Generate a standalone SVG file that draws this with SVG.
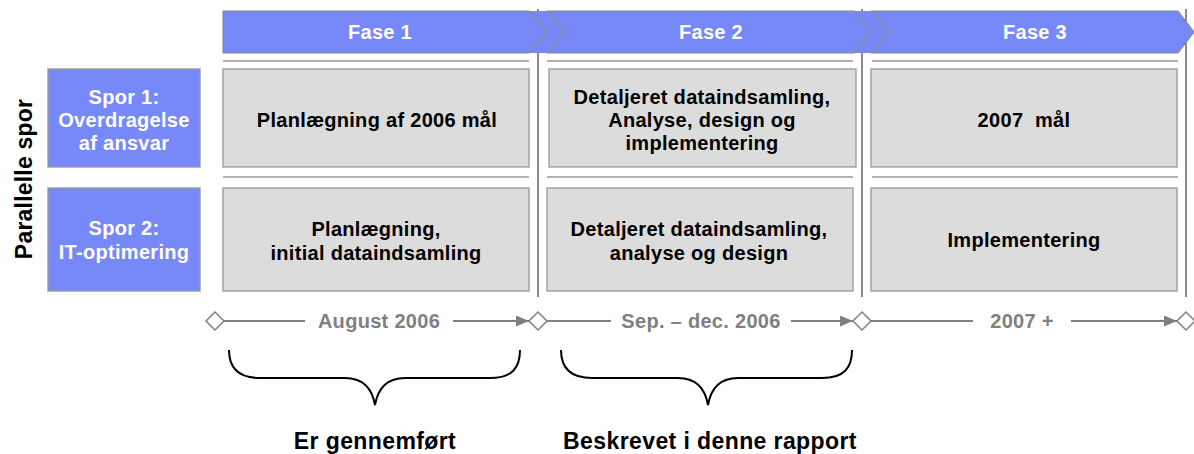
<svg xmlns="http://www.w3.org/2000/svg" width="1194" height="454" viewBox="0 0 1194 454">
<style>
text{font-family:"Liberation Sans",Arial,sans-serif;font-weight:bold;letter-spacing:0.3px;text-anchor:middle;white-space:pre}
.hdr{fill:#ffffff;font-size:20px}
.cell{fill:#dcdcdc;stroke:#999999;stroke-width:1.3}
.ctext{fill:#000000;font-size:20px}
.track{fill:#7788f8;stroke:#999999;stroke-width:1.3}
.ttext{fill:#ffffff;font-size:20px}
.vtext{fill:#000000;font-size:23px;letter-spacing:0.2px}
.sep{stroke:#8c8c8c;stroke-width:2;fill:none}
.hl{stroke:#999999;stroke-width:1.5;fill:none}
.chev{fill:#7788f8;stroke:#8c8c8c;stroke-width:1.2}
.gap{fill:#7788f8;stroke:none}
.tl{stroke:#808080;stroke-width:2.2;fill:none}
.tltext{fill:#808080;font-size:20px}
.dia{fill:#ffffff;stroke:#808080;stroke-width:1.5}
.brace{stroke:#000000;stroke-width:2;fill:none}
.btext{fill:#000000;font-size:23px;letter-spacing:0.4px}
</style>
<defs>
<marker id="arr" viewBox="0 0 13 11" refX="13" refY="5.5" markerWidth="13" markerHeight="11" markerUnits="userSpaceOnUse" orient="auto">
<path d="M0,0 L13,5.5 L0,11 Z" fill="#808080"/>
</marker>
</defs>
<rect width="1194" height="454" fill="#ffffff"/>

<g id="separators">
<line class="sep" x1="538" y1="9" x2="538" y2="297"/>
<line class="sep" x1="862" y1="9" x2="862" y2="297"/>
<line class="sep" x1="1186" y1="9" x2="1186" y2="297"/>
</g>

<g id="phases">
<polygon class="gap" points="529,11 548,11 566,32 548,53 529,53 547,32"/>
<polygon class="gap" points="854,11 872,11 889,32 872,53 854,53 871,32"/>
<g id="fase1">
<polygon class="chev" points="223,11 529,11 547,32 529,53 223,53"/>
<text class="hdr" x="380" y="39">Fase 1</text>
</g>
<g id="fase2">
<polygon class="chev" points="548,11 854,11 871,32 854,53 548,53 566,32"/>
<text class="hdr" x="711" y="39">Fase 2</text>
</g>
<g id="fase3">
<polygon class="chev" points="872,11 1178,11 1194,32 1178,53 872,53 889,32"/>
<text class="hdr" x="1035" y="39">Fase 3</text>
</g>
</g>

<g id="rules">
<line class="hl" x1="223" y1="61" x2="529" y2="61"/>
<line class="hl" x1="547" y1="61" x2="853" y2="61"/>
<line class="hl" x1="872" y1="61" x2="1178" y2="61"/>
<line class="hl" x1="223" y1="177" x2="529" y2="177"/>
<line class="hl" x1="547" y1="177" x2="853" y2="177"/>
<line class="hl" x1="872" y1="177" x2="1178" y2="177"/>
</g>

<g id="label-parallelle">
<text class="vtext" transform="translate(32,179) rotate(-90)">Parallelle spor</text>
</g>

<g id="spor1">
<rect class="track" x="48" y="69" width="152" height="98"/>
<text class="ttext" x="124" y="104">Spor 1:</text>
<text class="ttext" x="124" y="127">Overdragelse</text>
<text class="ttext" x="124" y="150">af ansvar</text>
</g>
<g id="spor2">
<rect class="track" x="48" y="188" width="152" height="103"/>
<text class="ttext" x="124" y="235">Spor 2:</text>
<text class="ttext" x="124" y="259">IT-optimering</text>
</g>

<g id="cell-1-1">
<rect class="cell" x="223" y="69" width="306" height="98"/>
<text class="ctext" x="377" y="127">Planlægning af 2006 mål</text>
</g>
<g id="cell-1-2">
<rect class="cell" x="549" y="69" width="307" height="98"/>
<text class="ctext" x="702" y="104">Detaljeret dataindsamling,</text>
<text class="ctext" x="702" y="127">Analyse, design og</text>
<text class="ctext" x="702" y="150">implementering</text>
</g>
<g id="cell-1-3">
<rect class="cell" x="871" y="69" width="306" height="98"/>
<text class="ctext" x="1024" y="127">2007  mål</text>
</g>
<g id="cell-2-1">
<rect class="cell" x="223" y="188" width="306" height="103"/>
<text class="ctext" x="376" y="236">Planlægning,</text>
<text class="ctext" x="376" y="260">initial dataindsamling</text>
</g>
<g id="cell-2-2">
<rect class="cell" x="547" y="188" width="306" height="103"/>
<text class="ctext" x="699" y="236">Detaljeret dataindsamling,</text>
<text class="ctext" x="699" y="260">analyse og design</text>
</g>
<g id="cell-2-3">
<rect class="cell" x="871" y="188" width="306" height="103"/>
<text class="ctext" x="1024" y="247">Implementering</text>
</g>

<g id="connectors">
<line class="tl" x1="224" y1="321" x2="305" y2="321"/>
<line class="tl" x1="453" y1="321" x2="529" y2="321" marker-end="url(#arr)"/>
<line class="tl" x1="547" y1="321" x2="611" y2="321"/>
<line class="tl" x1="791" y1="321" x2="853" y2="321" marker-end="url(#arr)"/>
<line class="tl" x1="871" y1="321" x2="973" y2="321"/>
<line class="tl" x1="1071" y1="321" x2="1177" y2="321" marker-end="url(#arr)"/>
<path class="brace" d="M229,350 C229,368 238,378 260,378 L345,378 C363,378 372,388 375,405 C378,388 387,378 405,378 L490,378 C512,378 520,368 520,350"/>
<path class="brace" d="M561,350 C561,368 570,378 592,378 L678,378 C696,378 705,388 708,405 C711,388 720,378 738,378 L822,378 C844,378 852,368 852,350"/>
</g>

<g id="timeline-labels">
<text class="tltext" x="379" y="328">August 2006</text>
<text class="tltext" x="701" y="328">Sep. – dec. 2006</text>
<text class="tltext" x="1022" y="328">2007 +</text>
</g>

<g id="milestones">
<polygon class="dia" points="215,312 224,321 215,330 206,321"/>
<polygon class="dia" points="538,312 547,321 538,330 529,321"/>
<polygon class="dia" points="862,312 871,321 862,330 853,321"/>
<polygon class="dia" points="1186,312 1195,321 1186,330 1177,321"/>
</g>

<g id="bottom-labels">
<text class="btext" x="375" y="449">Er gennemført</text>
<text class="btext" x="710" y="449">Beskrevet i denne rapport</text>
</g>
</svg>
